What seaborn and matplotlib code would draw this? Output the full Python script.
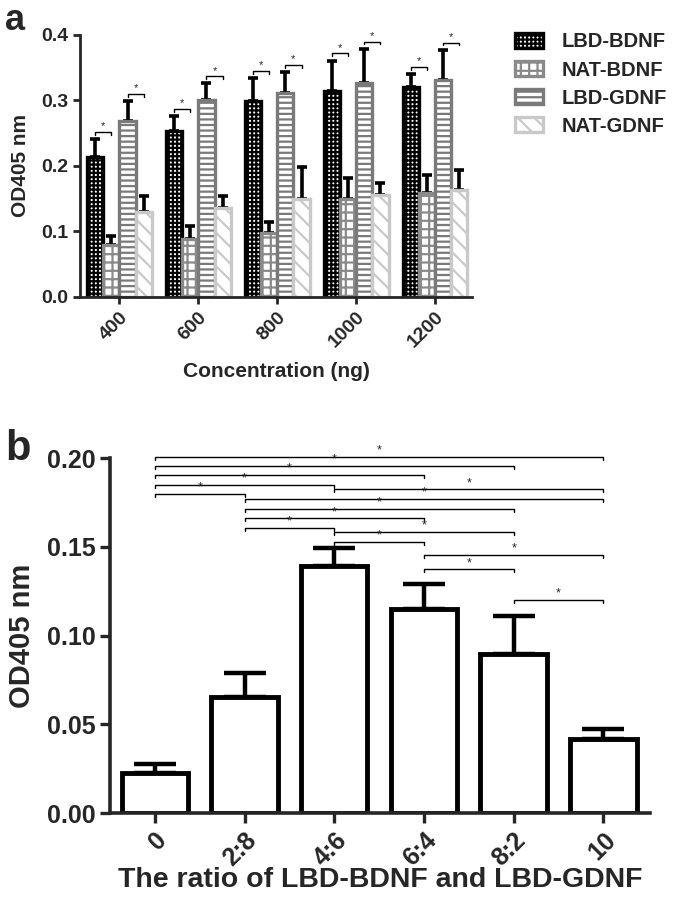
import numpy as np
import pandas as pd
import seaborn as sns
import matplotlib.pyplot as plt
from matplotlib.patches import Patch

# panel a data
concentrations = ['400', '600', '800', '1000', '1200']
groups = ['LBD-BDNF', 'NAT-BDNF', 'LBD-GDNF', 'NAT-GDNF']
lbd_bdnf = [0.213, 0.254, 0.299, 0.314, 0.320]
nat_bdnf = [0.080, 0.089, 0.097, 0.150, 0.158]
lbd_gdnf = [0.268, 0.301, 0.312, 0.327, 0.331]
nat_gdnf = [0.129, 0.136, 0.149, 0.155, 0.163]
lbd_bdnf_err = [0.028, 0.022, 0.035, 0.047, 0.020]
nat_bdnf_err = [0.013, 0.019, 0.018, 0.032, 0.028]
lbd_gdnf_err = [0.031, 0.025, 0.031, 0.052, 0.046]
nat_gdnf_err = [0.025, 0.018, 0.049, 0.019, 0.031]

# panel b data
ratios = ['0', '2:8', '4:6', '6:4', '8:2', '10']
ratio_od = [0.0228, 0.0654, 0.1389, 0.1148, 0.0896, 0.0418]
ratio_err = [0.0047, 0.0134, 0.0105, 0.0144, 0.0215, 0.0053]
sig_pairs = [(0, 5), (0, 4), (0, 3), (0, 2), (0, 1), (2, 5), (1, 5), (1, 4),
             (1, 3), (1, 2), (2, 4), (2, 3), (3, 5), (3, 4), (4, 5)]
sig_heights = [0.2006, 0.1955, 0.1903, 0.1849, 0.1797, 0.1823, 0.1769, 0.1714,
               0.1660, 0.1608, 0.1584, 0.1529, 0.1455, 0.1373, 0.1199]

sns.set_style('ticks')
plt.rcParams['font.family'] = ['Liberation Sans', 'DejaVu Sans']
plt.rcParams['font.weight'] = 'bold'
plt.rcParams['hatch.linewidth'] = 1.6

fig = plt.figure(figsize=(6.75, 8.97), dpi=100)
ax_a = fig.add_axes([0.1185, 0.669, 0.581, 0.292])
ax_b = fig.add_axes([0.163, 0.0936, 0.800, 0.3958])

# ---- panel a ----
df = pd.DataFrame({
    'Concentration': concentrations * 4,
    'Group': np.repeat(groups, len(concentrations)),
    'OD': lbd_bdnf + nat_bdnf + lbd_gdnf + nat_gdnf,
})
errs = [lbd_bdnf_err, nat_bdnf_err, lbd_gdnf_err, nat_gdnf_err]
edges = ['black', '#8a8a8a', '#7a7a7a', '#c9c9c9']
hatches = ['++++', '++', '---', '\\\\']

sns.barplot(data=df, x='Concentration', y='OD', hue='Group', order=concentrations,
            hue_order=groups, palette=['white'] * 4, saturation=1, width=0.82,
            errorbar=None, legend=False, ax=ax_a, zorder=2)

bar_containers = list(ax_a.containers)
centers = []
for k, cont in enumerate(bar_containers):
    xs = []
    for patch in cont:
        patch.set_edgecolor(edges[k])
        patch.set_hatch(hatches[k])
        patch.set_linewidth(2.4)
        xs.append(patch.get_x() + patch.get_width() / 2)
    centers.append(xs)
    vals = [p.get_height() for p in cont]
    ax_a.errorbar(xs, vals, yerr=[np.zeros(len(vals)), errs[k]], fmt='none',
                  ecolor='black', elinewidth=2.6, capsize=3.5, capthick=2.6, zorder=1)

# brackets between LBD and NAT pairs
for a_idx, b_idx, vals, e in [(0, 1, lbd_bdnf, lbd_bdnf_err), (2, 3, lbd_gdnf, lbd_gdnf_err)]:
    for i in range(len(concentrations)):
        y = vals[i] + e[i] + 0.011
        x1, x2 = centers[a_idx][i], centers[b_idx][i]
        ax_a.plot([x1, x1, x2, x2], [y - 0.004, y, y, y - 0.004], color='black', lw=1)
        ax_a.text((x1 + x2) / 2, y + 0.001, '*', ha='center', va='bottom',
                  fontsize=8, fontweight='normal')

ax_a.set_ylim(0, 0.4)
ax_a.set_xlim(-0.5, 4.47)
ax_a.set_yticks([0.0, 0.1, 0.2, 0.3, 0.4])
ax_a.set_yticklabels(['0.0', '0.1', '0.2', '0.3', '0.4'])
ax_a.set_ylabel('OD405 nm', fontsize=15, fontweight='bold', labelpad=8)
ax_a.set_xlabel('Concentration (ng)', fontsize=15, fontweight='bold', labelpad=8)
ax_a.tick_params(axis='both', width=2, length=5, labelsize=14)
plt.setp(ax_a.get_xticklabels(), rotation=45, ha='right', va='top', rotation_mode='anchor')
sns.despine(ax=ax_a)
for s in ['left', 'bottom']:
    ax_a.spines[s].set_linewidth(2)

handles = [Patch(facecolor='white', edgecolor=edges[k], hatch=hatches[k], linewidth=2.4)
           for k in range(4)]
fig.legend(handles, groups, loc='upper left', bbox_to_anchor=(0.736, 0.984), frameon=False,
           prop={'size': 14.5, 'weight': 'bold'}, handlelength=1.4, handleheight=0.75,
           labelspacing=0.45, handletextpad=0.9)

# ---- panel b ----
sns.barplot(x=ratios, y=ratio_od, color='white', saturation=1, edgecolor='black',
            linewidth=3.5, width=0.74, errorbar=None, ax=ax_b, zorder=2)
bx = [p.get_x() + p.get_width() / 2 for p in ax_b.patches]
ax_b.errorbar(bx, ratio_od, yerr=[np.zeros(len(ratio_od)), ratio_err], fmt='none',
              ecolor='black', elinewidth=3.2, capsize=15, capthick=3.2, zorder=1)

for (i, j), y in zip(sig_pairs, sig_heights):
    ax_b.plot([bx[i], bx[i], bx[j], bx[j]], [y - 0.0017, y, y, y - 0.0017],
              color='black', lw=1, clip_on=False)
    ax_b.text((bx[i] + bx[j]) / 2, y + 0.0002, '*', ha='center', va='bottom',
              fontsize=9, fontweight='normal', clip_on=False)

ax_b.set_ylim(0, 0.20)
ax_b.set_xlim(-0.5, 5.52)
ax_b.set_yticks([0.0, 0.05, 0.10, 0.15, 0.20])
ax_b.set_yticklabels(['0.00', '0.05', '0.10', '0.15', '0.20'])
ax_b.set_ylabel('OD405 nm', fontsize=21, fontweight='bold', labelpad=8)
ax_b.set_xlabel('The ratio of LBD-BDNF and LBD-GDNF', fontsize=20.5, fontweight='bold',
                labelpad=-2)
ax_b.tick_params(axis='both', width=2.4, length=7, labelsize=18)
plt.setp(ax_b.get_xticklabels(), rotation=45, ha='right', va='top', rotation_mode='anchor')
sns.despine(ax=ax_b)
for s in ['left', 'bottom']:
    ax_b.spines[s].set_linewidth(2.6)

fig.text(0.008, 0.997, 'a', fontsize=26, fontweight='bold', va='top')
fig.text(0.008, 0.522, 'b', fontsize=30, fontweight='bold', va='top')

fig.savefig('out.png', dpi=100)
